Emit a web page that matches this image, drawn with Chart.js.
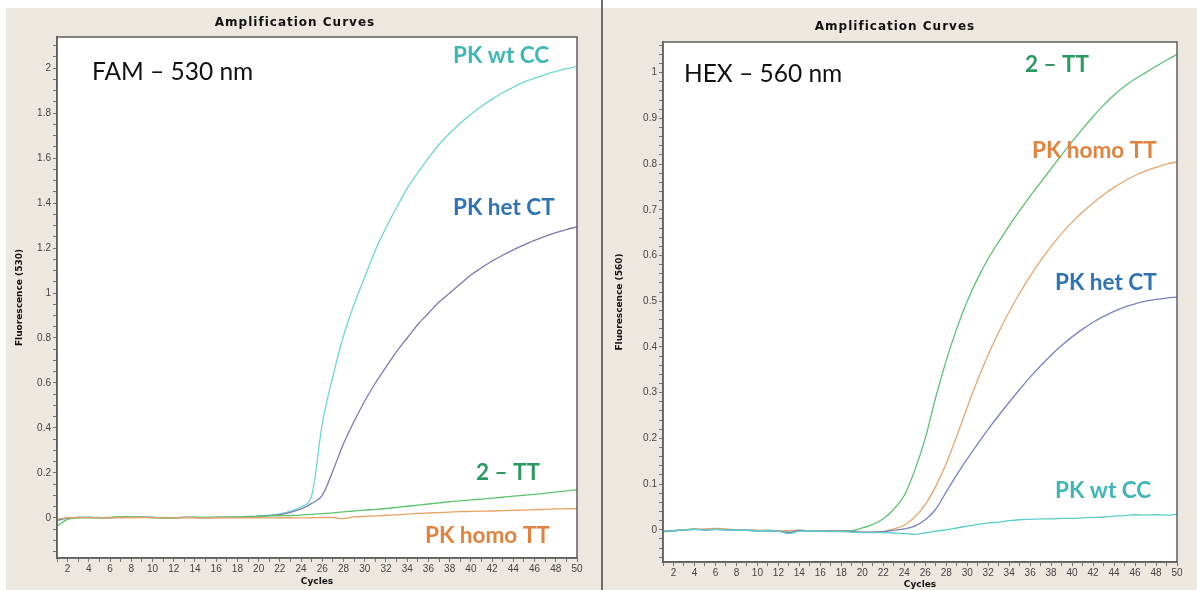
<!DOCTYPE html>
<html>
<head>
<meta charset="utf-8">
<script src="https://cdn.jsdelivr.net/npm/chart.js@4.4.1/dist/chart.umd.min.js"></script>
<style>
  html, body { margin: 0; padding: 0; background: #fff; }
  #wrap { position: relative; width: 1197px; height: 590px; overflow: hidden; }
  .panel { position: absolute; top: 8px; height: 582px; background: #ece8e0; }
  #panelL { left: 6px; width: 595px; }
  #panelR { left: 603px; width: 594px; }
  #sep { position: absolute; left: 601px; top: 0; width: 2px; height: 590px; background: #6d6d6d; }
  canvas { position: absolute; top: 0; }
  #famChart { left: 0; }
  #hexChart { left: 600px; }
</style>
</head>
<body>
<div id="wrap">
  <div class="panel" id="panelL"></div>
  <div class="panel" id="panelR"></div>
  <div id="sep"></div>
  <canvas id="famChart" width="600" height="590"></canvas>
  <canvas id="hexChart" width="597" height="590"></canvas>
</div>
<script>
// cycle numbers (x axis)
const cycles = [1,2,3,4,5,6,7,8,9,10,11,12,13,14,15,16,17,18,19,20,21,22,23,24,25,
  26,27,28,29,30,31,32,33,34,35,36,37,38,39,40,41,42,43,44,45,46,47,48,49,50];

// FAM - 530 nm, fluorescence per cycle
const famWtCC = [-0.012,-0.002,0.002,0.003,0.002,0.001,0.004,0.003,0.004,0.003,0.002,0.001,0.003,0.004,0.003,0.004,0.005,0.005,0.007,0.009,
  0.012,0.018,0.03,0.05,0.1,0.42,0.63,0.81,0.95,1.07,1.19,1.29,1.38,1.465,1.535,1.6,1.66,1.71,1.755,1.795,
  1.83,1.862,1.89,1.915,1.937,1.955,1.971,1.985,1.997,2.006];
const famHetCT = [-0.01,0.0,0.003,0.002,0.001,0.0,0.002,0.003,0.004,0.002,0.0,0.001,0.003,0.002,0.001,0.002,0.003,0.003,0.005,0.007,
  0.01,0.015,0.025,0.04,0.065,0.1,0.21,0.33,0.43,0.52,0.6,0.67,0.74,0.8,0.86,0.91,0.96,1.0,1.04,1.08,
  1.112,1.142,1.168,1.192,1.214,1.234,1.252,1.268,1.282,1.294];
const fam2TT = [-0.035,-0.006,0.0,0.002,0.001,0.003,0.006,0.005,0.004,0.002,0.0,0.001,0.003,0.002,0.002,0.003,0.003,0.004,0.005,0.007,
  0.009,0.01,0.011,0.013,0.016,0.019,0.023,0.027,0.031,0.035,0.038,0.042,0.047,0.052,0.057,0.062,0.067,0.072,0.076,0.08,
  0.084,0.088,0.092,0.097,0.101,0.105,0.11,0.115,0.12,0.126];
const famHomoTT = [-0.005,0.0,0.002,0.001,0.0,0.001,0.002,0.001,0.002,0.001,0.0,0.0,0.001,0.001,0.0,0.001,0.001,0.0,0.001,0.001,
  0.0,0.001,0.001,0.0,0.001,0.002,0.002,-0.003,0.005,0.007,0.009,0.012,0.014,0.017,0.02,0.022,0.024,0.026,0.028,0.029,
  0.03,0.031,0.033,0.034,0.035,0.037,0.038,0.04,0.041,0.042];

// HEX - 560 nm, fluorescence per cycle
const hex2TT = [-0.004,-0.003,0.0,0.002,0.0,0.001,0.0,-0.001,-0.001,-0.002,-0.001,-0.002,-0.003,-0.001,-0.002,-0.003,-0.002,-0.002,-0.002,0.004,
  0.012,0.024,0.045,0.075,0.13,0.2,0.29,0.37,0.44,0.5,0.55,0.593,0.63,0.665,0.698,0.73,0.76,0.79,0.82,0.849,
  0.877,0.904,0.929,0.951,0.97,0.986,1.0,1.014,1.027,1.04];
const hexHomoTT = [-0.003,-0.002,0.0,0.001,0.002,0.003,0.002,0.0,-0.001,-0.001,-0.002,-0.002,-0.002,-0.001,-0.002,-0.003,-0.003,-0.002,-0.004,-0.005,
  -0.005,-0.004,0.002,0.01,0.028,0.055,0.095,0.145,0.205,0.268,0.328,0.383,0.432,0.477,0.518,0.555,0.589,0.62,0.648,0.673,
  0.695,0.715,0.733,0.749,0.763,0.775,0.785,0.793,0.8,0.805];
const hexHetCT = [-0.003,-0.002,0.0,0.001,0.0,0.001,0.0,-0.001,-0.001,-0.002,-0.002,-0.003,-0.006,-0.002,-0.002,-0.003,-0.003,-0.003,-0.004,-0.005,
  -0.005,-0.004,-0.001,0.002,0.008,0.022,0.045,0.083,0.12,0.155,0.188,0.22,0.25,0.279,0.307,0.334,0.359,0.382,0.403,0.422,
  0.439,0.454,0.467,0.478,0.487,0.494,0.5,0.504,0.507,0.509];
const hexWtCC = [-0.003,-0.002,0.0,0.001,0.0,0.001,0.0,-0.001,-0.001,-0.002,-0.002,-0.003,-0.008,-0.003,-0.002,-0.003,-0.004,-0.004,-0.005,-0.006,
  -0.006,-0.006,-0.007,-0.008,-0.01,-0.007,-0.003,0.0,0.004,0.008,0.012,0.015,0.017,0.02,0.022,0.023,0.024,0.024,0.025,0.025,
  0.026,0.027,0.028,0.03,0.031,0.033,0.032,0.033,0.032,0.034];

// white plot area, frame, panel title and the text notes
const framePlugin = {
  id: 'framePlugin',
  beforeDraw(chart) {
    const { ctx, chartArea: a } = chart;
    ctx.save();
    ctx.fillStyle = '#ffffff';
    ctx.fillRect(a.left, a.top, a.width, a.height);
    ctx.restore();
  },
  afterDraw(chart, args, opts) {
    const { ctx, chartArea: a } = chart;
    ctx.save();
    ctx.strokeStyle = '#5f5f5f';
    ctx.lineWidth = 1.5;
    ctx.strokeRect(a.left, a.top, a.width, a.height);

    ctx.fillStyle = '#111';
    ctx.font = 'bold 12px "DejaVu Sans"';
    ctx.letterSpacing = '1px';
    ctx.textAlign = 'center';
    ctx.textBaseline = 'middle';
    ctx.fillText('Amplification Curves', 295, opts.titleY);
    ctx.letterSpacing = '0px';

    ctx.textAlign = 'left';
    ctx.textBaseline = 'alphabetic';
    opts.notes.forEach(n => {
      ctx.font = n.font;
      ctx.fillStyle = n.color;
      ctx.fillText(n.text, a.left + n.dx, a.top + n.dy);
    });
    ctx.restore();
  }
};

function makeChart(id, series, yCfg, layout) {
  const axisFont = { family: '"DejaVu Sans"', size: 9, weight: 'bold' };
  const tickFont = { family: '"Liberation Sans"', size: 10 };
  return new Chart(document.getElementById(id), {
    type: 'line',
    data: {
      labels: cycles,
      datasets: series.map(s => ({
        data: s.values,
        borderColor: s.color,
        borderWidth: 1.3,
        pointRadius: 0,
        cubicInterpolationMode: 'monotone',
        fill: false
      }))
    },
    options: {
      responsive: false,
      animation: false,
      events: [],
      layout: { padding: { left: 0, right: layout.right, top: layout.top, bottom: 0 } },
      plugins: {
        legend: { display: false },
        tooltip: { enabled: false },
        framePlugin: { titleY: layout.titleY, notes: layout.notes }
      },
      scales: {
        x: {
          type: 'linear',
          min: 1,
          max: 50,
          afterFit: s => { s.height = layout.xh; },
          border: { color: '#5f5f5f', width: 1.5 },
          grid: { drawOnChartArea: false, tickLength: 4, tickColor: '#777' },
          ticks: {
            stepSize: 1,
            autoSkip: false,
            maxRotation: 0,
            padding: 1,
            color: '#444',
            font: tickFont,
            callback: v => (v % 2 === 0 ? String(v) : '')
          },
          title: { display: true, text: 'Cycles', color: '#111', font: axisFont, padding: { top: 0, bottom: layout.xTitlePad } }
        },
        y: {
          min: yCfg.min,
          max: yCfg.max,
          afterFit: s => { s.width = layout.yw; },
          border: { color: '#5f5f5f', width: 1.5 },
          grid: { drawOnChartArea: false, tickLength: 4, tickColor: '#777' },
          ticks: {
            stepSize: yCfg.minor,
            includeBounds: false,
            autoSkip: false,
            padding: 2,
            color: '#444',
            font: tickFont,
            callback: v => {
              const k = v / yCfg.major;
              return Math.abs(k - Math.round(k)) < 1e-6 ? String(Number(v.toFixed(2))) : '';
            }
          },
          title: { display: true, text: yCfg.title, color: '#111', font: axisFont, padding: { top: 14.6, bottom: 0 } }
        }
      }
    },
    plugins: [framePlugin]
  });
}

const noteFont = '400 24.5px Lato';
const labelFont = 'bold 22.5px Lato';

makeChart('famChart', [
  { values: famHomoTT, color: '#e6a366' },
  { values: fam2TT, color: '#5cc46c' },
  { values: famHetCT, color: '#7a7ab6' },
  { values: famWtCC, color: '#6fd5d5' }
], { min: -0.178, max: 2.138, major: 0.2, minor: 0.05, title: 'Fluorescence (530)' },
{ top: 37, right: 23, yw: 57, xh: 32, titleY: 22.5, xTitlePad: 3,
  notes: [
    { text: 'FAM \u2013 530 nm', dx: 35, dy: 43, color: '#111', font: noteFont },
    { text: 'PK wt CC', dx: 396, dy: 26, color: '#3fb7b5', font: labelFont },
    { text: 'PK het CT', dx: 396, dy: 178, color: '#2f73b4', font: labelFont },
    { text: '2 \u2013 TT', dx: 419, dy: 443, color: '#2a9a60', font: labelFont },
    { text: 'PK homo TT', dx: 368, dy: 506, color: '#e2823f', font: labelFont }
  ] });

makeChart('hexChart', [
  { values: hexWtCC, color: '#5ccccc' },
  { values: hexHetCT, color: '#7a82c4' },
  { values: hexHomoTT, color: '#e8a66c' },
  { values: hex2TT, color: '#5dc174' }
], { min: -0.0704, max: 1.067, major: 0.1, minor: 0.02, title: 'Fluorescence (560)' },
{ top: 42, right: 20, yw: 63, xh: 28, titleY: 26.5, xTitlePad: 0,
  notes: [
    { text: 'HEX \u2013 560 nm', dx: 21, dy: 40, color: '#111', font: noteFont },
    { text: '2 \u2013 TT', dx: 362, dy: 30, color: '#2a9a60', font: labelFont },
    { text: 'PK homo TT', dx: 369, dy: 116, color: '#e2823f', font: labelFont },
    { text: 'PK het CT', dx: 392, dy: 248, color: '#2f73b4', font: labelFont },
    { text: 'PK wt CC', dx: 392, dy: 456, color: '#3fb7b5', font: labelFont }
  ] });
</script>
</body>
</html>
